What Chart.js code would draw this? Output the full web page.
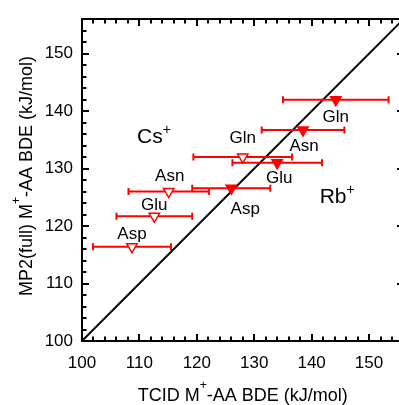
<!DOCTYPE html>
<html>
<head>
<meta charset="utf-8">
<script src="https://cdn.jsdelivr.net/npm/chart.js@4.4.1/dist/chart.umd.min.js"></script>
<style>
  html, body { margin: 0; padding: 0; background: #fff; overflow: hidden; }
  #wrap { width: 411px; height: 405px; }
</style>
</head>
<body>
<div id="wrap"><canvas id="myChart" width="411" height="405"></canvas></div>
<script>
// amino acids, same order for both metals
var aminoAcids = ['Asp', 'Glu', 'Asn', 'Gln'];

// Cs+ (open triangles)
var csTcid = [108.7, 112.6, 115.1, 128.0];
var csMp2 = [116.4, 121.7, 126.0, 132.0];
var csErr = [6.8, 6.6, 7.0, 8.6];

// Rb+ (filled triangles)
var rbTcid = [126.0, 134.0, 138.5, 144.2];
var rbMp2 = [126.6, 131.0, 136.7, 142.0];
var rbErr = [6.8, 7.8, 7.2, 9.2];

// y = x reference line
var parity = [100, 156];

var xTicks = [100, 110, 120, 130, 140, 150];
var yTicks = [100, 110, 120, 130, 140, 150];

var RED = '#ff0000';
var FONT = "'Liberation Sans', Arial, Helvetica, sans-serif";

function toPoints(xs, ys) {
    return xs.map(function (v, i) { return { x: v, y: ys[i] }; });
}

// label placement next to each point (px, dx and baseline dy)
var csLabelOffsets = [[0, -8], [0, -6], [1, -11], [0, -14]];
var rbLabelOffsets = [[14, 26], [2, 20], [1, 21], [0, 22.5]];

// draw text with a superscript part
function drawRich(ctx, parts, x, y, align, size, supSize, supRaise) {
    var total = 0;
    parts.forEach(function (p) {
        ctx.font = (p.sup ? supSize : size) + 'px ' + FONT;
        p.w = ctx.measureText(p.t).width;
        total += p.w;
    });
    var cx = align === 'center' ? x - total / 2 : x;
    ctx.textAlign = 'left';
    ctx.textBaseline = 'alphabetic';
    parts.forEach(function (p) {
        ctx.font = (p.sup ? supSize : size) + 'px ' + FONT;
        ctx.fillText(p.t, cx, p.sup ? y - supRaise : y);
        cx += p.w;
    });
}

var errorBars = {
    id: 'errorBars',
    afterDatasetDraw: function (chart, args) {
        if (args.index !== 2) return; // right after the diagonal line
        var ctx = chart.ctx, xs = chart.scales.x, ys = chart.scales.y;
        var sets = [[csTcid, csMp2, csErr], [rbTcid, rbMp2, rbErr]];
        ctx.save();
        ctx.strokeStyle = RED;
        ctx.lineWidth = 2;
        sets.forEach(function (s) {
            s[0].forEach(function (v, i) {
                var x1 = xs.getPixelForValue(v - s[2][i]);
                var x2 = xs.getPixelForValue(v + s[2][i]);
                var y = ys.getPixelForValue(s[1][i]);
                ctx.beginPath();
                ctx.moveTo(x1, y); ctx.lineTo(x2, y);
                ctx.moveTo(x1, y - 3.5); ctx.lineTo(x1, y + 3.5);
                ctx.moveTo(x2, y - 3.5); ctx.lineTo(x2, y + 3.5);
                ctx.stroke();
            });
        });
        ctx.restore();
    }
};

var frameAndText = {
    id: 'frameAndText',
    afterDraw: function (chart) {
        var c = chart.ctx, a = chart.chartArea;
        var xs = chart.scales.x, ys = chart.scales.y;
        var L = Math.round(a.left), T = Math.round(a.top);
        var R = Math.round(a.right), B = Math.round(a.bottom);
        c.save();
        c.fillStyle = '#000';
        // frame
        c.fillRect(L - 1, T - 1, R - L + 2, 2);
        c.fillRect(L - 1, B - 1, R - L + 2, 2);
        c.fillRect(L - 1, T - 1, 2, B - T + 2);
        c.fillRect(R - 1, T - 1, 2, B - T + 2);
        // inward tick marks, minor every 2
        for (var v = 102; v < 156; v += 2) {
            var len = (v % 10 === 0) ? 7 : 4.5;
            var px = Math.round(xs.getPixelForValue(v));
            var py = Math.round(ys.getPixelForValue(v));
            c.fillRect(px - 1, B - len, 2, len);
            c.fillRect(px - 1, T, 2, len);
            c.fillRect(L, py - 1, len, 2);
            c.fillRect(R - len, py - 1, len, 2);
        }

        // point labels
        c.font = '17px ' + FONT;
        c.textAlign = 'center';
        c.textBaseline = 'alphabetic';
        aminoAcids.forEach(function (name, i) {
            c.fillText(name, xs.getPixelForValue(csTcid[i]) + csLabelOffsets[i][0],
                ys.getPixelForValue(csMp2[i]) + csLabelOffsets[i][1]);
            c.fillText(name, xs.getPixelForValue(rbTcid[i]) + rbLabelOffsets[i][0],
                ys.getPixelForValue(rbMp2[i]) + rbLabelOffsets[i][1]);
        });

        // metal labels
        drawRich(c, [{ t: 'Cs' }, { t: '+', sup: true }],
            xs.getPixelForValue(109.6), ys.getPixelForValue(134.5), 'left', 21, 14, 9);
        drawRich(c, [{ t: 'Rb' }, { t: '+', sup: true }],
            xs.getPixelForValue(141.4), ys.getPixelForValue(124.0), 'left', 21, 14, 9);

        // axis titles
        drawRich(c, [{ t: 'TCID M' }, { t: '+', sup: true }, { t: '-AA BDE (kJ/mol)' }],
            (a.left + a.right) / 2, 401, 'center', 18, 12, 12);
        c.translate(32, 176);
        c.rotate(-Math.PI / 2);
        drawRich(c, [{ t: 'MP2(full) M' }, { t: '+', sup: true }, { t: '-AA BDE (kJ/mol)' }],
            0, 0, 'center', 18, 12, 12);
        c.restore();
    }
};

Chart.defaults.font.family = FONT;

var ctx = document.getElementById('myChart').getContext('2d');
new Chart(ctx, {
    type: 'scatter',
    data: {
        datasets: [
            {
                label: 'Cs+',
                data: toPoints(csTcid, csMp2),
                pointStyle: 'triangle',
                rotation: 180,
                radius: 6,
                backgroundColor: '#fff',
                borderColor: RED,
                borderWidth: 1.5
            },
            {
                label: 'Rb+',
                data: toPoints(rbTcid, rbMp2),
                pointStyle: 'triangle',
                rotation: 180,
                radius: 6,
                backgroundColor: RED,
                borderColor: RED,
                borderWidth: 1.5
            },
            {
                type: 'line',
                label: 'y = x',
                data: toPoints(parity, parity),
                borderColor: '#000',
                borderWidth: 2,
                pointRadius: 0,
                fill: false
            }
        ]
    },
    options: {
        responsive: false,
        animation: false,
        layout: { padding: { top: 15, right: 1, left: 0, bottom: 0 } },
        plugins: { legend: { display: false }, tooltip: { enabled: false } },
        scales: {
            x: {
                type: 'linear', min: 100, max: 156,
                grid: { display: false, drawTicks: false },
                border: { display: false },
                ticks: { font: { size: 17 }, color: '#000', padding: 12, maxRotation: 0 },
                afterBuildTicks: function (s) { s.ticks = xTicks.map(function (v) { return { value: v }; }); },
                afterFit: function (s) { s.height = 64; }
            },
            y: {
                type: 'linear', min: 100, max: 156,
                grid: { display: false, drawTicks: false },
                border: { display: false },
                ticks: { font: { size: 17 }, color: '#000', padding: 9 },
                afterBuildTicks: function (s) { s.ticks = yTicks.map(function (v) { return { value: v }; }); },
                afterFit: function (s) { s.width = 82; }
            }
        }
    },
    plugins: [errorBars, frameAndText]
});
</script>
</body>
</html>
